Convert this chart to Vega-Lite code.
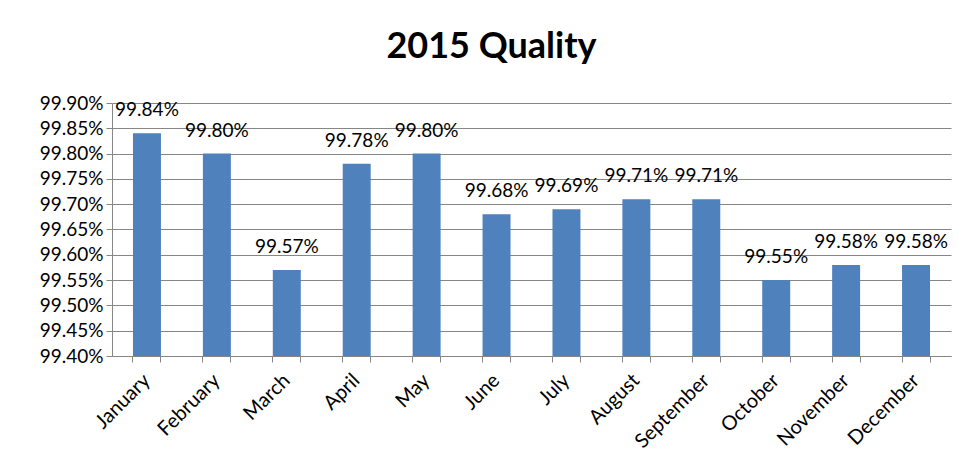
{
  "$schema": "https://vega.github.io/schema/vega-lite/v6.json",
  "autosize": "none",
  "width": 839,
  "height": 253,
  "padding": {"left": 112, "top": 103, "right": 17, "bottom": 119},
  "background": "white",
  "title": {
    "text": "2015 Quality",
    "font": "Lato",
    "fontSize": 36,
    "fontWeight": "bold",
    "color": "black",
    "anchor": "middle",
    "dx": -40,
    "baseline": "alphabetic",
    "offset": 0
  },
  "data": {
    "values": [
      {"month": "January", "quality": 0.9984},
      {"month": "February", "quality": 0.998},
      {"month": "March", "quality": 0.9957},
      {"month": "April", "quality": 0.9978},
      {"month": "May", "quality": 0.998},
      {"month": "June", "quality": 0.9968},
      {"month": "July", "quality": 0.9969},
      {"month": "August", "quality": 0.9971},
      {"month": "September", "quality": 0.9971},
      {"month": "October", "quality": 0.9955},
      {"month": "November", "quality": 0.9958},
      {"month": "December", "quality": 0.9958}
    ]
  },
  "encoding": {
    "x": {
      "field": "month",
      "type": "nominal",
      "sort": null,
      "scale": {"paddingInner": 0.6, "paddingOuter": 0.3}
    },
    "y": {
      "field": "quality",
      "type": "quantitative",
      "scale": {"domain": [0.994, 0.999], "zero": false, "nice": false},
      "axis": {
        "title": null,
        "values": [0.994, 0.9945, 0.995, 0.9955, 0.996, 0.9965, 0.997, 0.9975, 0.998, 0.9985, 0.999],
        "format": ".2%",
        "labelFont": "Lato",
        "labelFontSize": 19,
        "labelColor": "black",
        "labelPadding": 3,
        "tickSize": 6,
        "tickColor": "#868686",
        "domainColor": "#868686",
        "gridColor": "#868686",
        "grid": true
      }
    }
  },
  "layer": [
    {
      "mark": {"type": "bar", "color": "#4F81BD"},
      "encoding": {
        "y2": {"datum": 0.994},
        "x": {
          "field": "month",
          "type": "nominal",
          "sort": null,
          "axis": {
            "title": null,
            "orient": "bottom",
            "labelAngle": -45,
            "labelAlign": "right",
            "labelBaseline": "middle",
            "labelFont": "Lato",
            "labelFontSize": 20,
            "labelColor": "black",
            "labelPadding": 15,
            "bandPosition": 0,
            "tickSize": 6,
            "tickColor": "#868686",
            "domainColor": "#868686",
            "grid": false
          }
        }
      }
    },
    {
      "mark": {"type": "text", "baseline": "alphabetic", "dy": -17, "font": "Lato", "fontSize": 19, "color": "black"},
      "encoding": {
        "text": {"field": "quality", "type": "quantitative", "format": ".2%"},
        "x": {
          "field": "month",
          "type": "nominal",
          "sort": null,
          "axis": {
            "title": null,
            "orient": "bottom",
            "labels": false,
            "domain": false,
            "grid": false,
            "bandPosition": 1,
            "tickSize": 6,
            "tickColor": "#868686"
          }
        }
      }
    }
  ],
  "resolve": {"axis": {"x": "independent"}},
  "config": {"view": {"stroke": null}, "axis": {"gridWidth": 1, "domainWidth": 1}}
}
